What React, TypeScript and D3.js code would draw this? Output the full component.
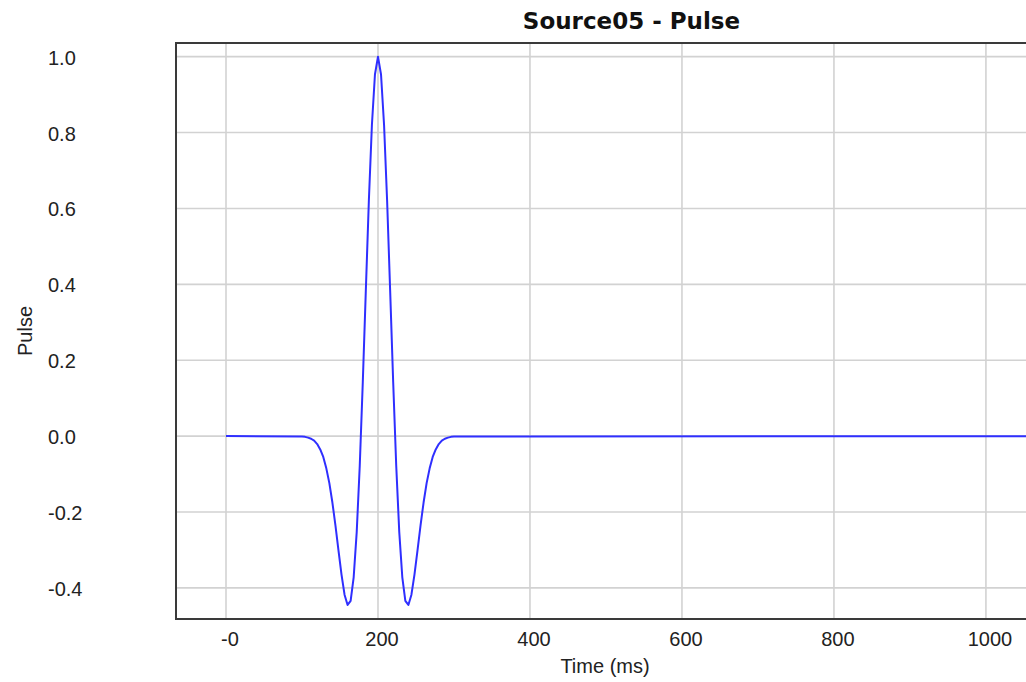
import React, { useEffect, useRef } from "react";
import * as d3 from "d3";

// pulse samples (ms, amplitude)
const timeMs = [
  0, 100, 104, 108, 112, 116, 120, 124, 128, 132, 136, 140, 144, 148, 152, 156,
  160, 164, 168, 172, 176, 180, 184, 188, 192, 196, 200, 204, 208, 212, 216,
  220, 224, 228, 232, 236, 240, 244, 248, 252, 256, 260, 264, 268, 272, 276,
  280, 284, 288, 292, 296, 300, 1140,
];
const pulse = [
  0, -0.001, -0.002, -0.004, -0.007, -0.012, -0.021, -0.035, -0.055, -0.085,
  -0.124, -0.175, -0.235, -0.301, -0.365, -0.418, -0.445, -0.434, -0.372,
  -0.253, -0.078, 0.142, 0.384, 0.621, 0.82, 0.953, 1.0, 0.953, 0.82, 0.621,
  0.384, 0.142, -0.078, -0.253, -0.372, -0.434, -0.445, -0.418, -0.365,
  -0.301, -0.235, -0.175, -0.124, -0.085, -0.055, -0.035, -0.021, -0.012,
  -0.007, -0.004, -0.002, -0.001, 0,
];

const xTicks = [0, 200, 400, 600, 800, 1000, 1200];
const xTickLabels = ["-0", "200", "400", "600", "800", "1000", "1200"];
const yTicks = [-0.4, -0.2, 0, 0.2, 0.4, 0.6, 0.8, 1.0];
const yTickLabels = ["-0.4", "-0.2", "0.0", "0.2", "0.4", "0.6", "0.8", "1.0"];

const App = () => {
  const ref = useRef<SVGSVGElement>(null);

  useEffect(() => {
    const width = 1026;
    const height = 682;
    const plot = { left: 176, top: 43, right: 1087, bottom: 619 };

    const svg = d3.select(ref.current);
    svg.selectAll("*").remove();

    const xScale = d3.scaleLinear().domain([-65.8, 1133]).range([plot.left, plot.right]);
    const yScale = d3.scaleLinear().domain([-0.482, 1.036]).range([plot.bottom, plot.top]);

    svg
      .append("defs")
      .append("clipPath")
      .attr("id", "plotClip")
      .append("rect")
      .attr("x", plot.left)
      .attr("y", plot.top)
      .attr("width", plot.right - plot.left)
      .attr("height", plot.bottom - plot.top);

    svg.append("rect").attr("width", width).attr("height", height).attr("fill", "#fff");

    // grid
    const grid = svg.append("g").attr("clip-path", "url(#plotClip)");
    grid
      .selectAll("line.vx")
      .data(xTicks)
      .join("line")
      .attr("x1", (d) => xScale(d))
      .attr("x2", (d) => xScale(d))
      .attr("y1", plot.top)
      .attr("y2", plot.bottom)
      .attr("stroke", "#d2d2d2")
      .attr("stroke-width", 1.6);
    grid
      .selectAll("line.hy")
      .data(yTicks)
      .join("line")
      .attr("x1", plot.left)
      .attr("x2", plot.right)
      .attr("y1", (d) => yScale(d))
      .attr("y2", (d) => yScale(d))
      .attr("stroke", "#d2d2d2")
      .attr("stroke-width", 1.6);

    // pulse line
    const line = d3
      .line<number>()
      .x((d, i) => xScale(timeMs[i]))
      .y((d) => yScale(d));
    svg
      .append("path")
      .datum(pulse)
      .attr("clip-path", "url(#plotClip)")
      .attr("d", line)
      .attr("fill", "none")
      .attr("stroke", "#2f2fff")
      .attr("stroke-width", 2)
      .attr("stroke-linejoin", "round");

    // frame
    svg
      .append("rect")
      .attr("x", plot.left)
      .attr("y", plot.top)
      .attr("width", plot.right - plot.left)
      .attr("height", plot.bottom - plot.top)
      .attr("fill", "none")
      .attr("stroke", "#3a3a3a")
      .attr("stroke-width", 2);

    const font = "'Liberation Sans', Arial, sans-serif";

    // x tick labels
    svg
      .append("g")
      .selectAll("text")
      .data(xTicks.filter((d) => xScale(d) < width))
      .join("text")
      .attr("x", (d) => xScale(d) + 4)
      .attr("y", 646)
      .attr("text-anchor", "middle")
      .attr("font-family", font)
      .attr("font-size", 20)
      .attr("fill", "#222")
      .text((d) => xTickLabels[xTicks.indexOf(d)]);

    // y tick labels
    svg
      .append("g")
      .selectAll("text")
      .data(yTicks)
      .join("text")
      .attr("x", 48)
      .attr("y", (d) => yScale(d) + 8)
      .attr("text-anchor", "start")
      .attr("font-family", font)
      .attr("font-size", 20)
      .attr("fill", "#222")
      .text((d, i) => yTickLabels[i]);

    // titles
    svg
      .append("text")
      .attr("x", 631.5)
      .attr("y", 29)
      .attr("text-anchor", "middle")
      .attr("font-family", "'DejaVu Sans', sans-serif")
      .attr("font-weight", "bold")
      .attr("font-size", 23)
      .attr("fill", "#111")
      .text("Source05 - Pulse");

    svg
      .append("text")
      .attr("x", 605)
      .attr("y", 673)
      .attr("text-anchor", "middle")
      .attr("font-family", font)
      .attr("font-size", 20)
      .attr("fill", "#222")
      .text("Time (ms)");

    svg
      .append("text")
      .attr("transform", "translate(32,331) rotate(-90)")
      .attr("text-anchor", "middle")
      .attr("font-family", font)
      .attr("font-size", 20)
      .attr("fill", "#222")
      .text("Pulse");
  }, []);

  return (
    <svg
      ref={ref}
      width={1026}
      height={682}
      style={{ position: "absolute", left: 0, top: 0, display: "block" }}
    />
  );
};

export default App;
